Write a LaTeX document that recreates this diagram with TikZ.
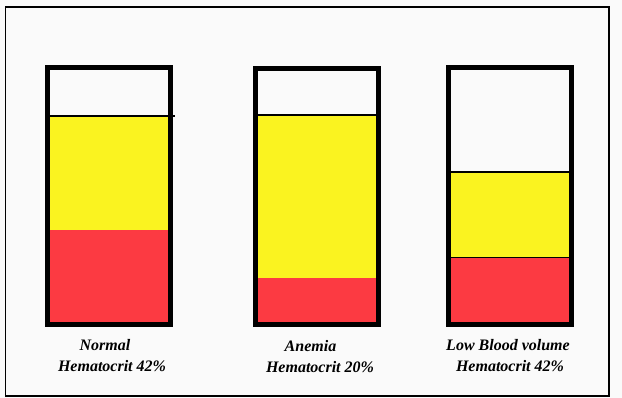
\documentclass[tikz,border=0pt]{standalone}
\usepackage{fontspec}
\setmainfont{Liberation Serif}
\definecolor{bg}{RGB}{250,250,250}
\definecolor{tubey}{RGB}{250,243,32}
\definecolor{tuber}{RGB}{252,58,66}
\begin{document}
\begin{tikzpicture}[x=0.75pt,y=-0.75pt,
  tubebox/.style={draw=black,line width=3.75pt},
  lvl/.style={draw=black,line width=0.9pt},
  lbl/.style={font=\fontsize{12}{14}\selectfont\bfseries\itshape,inner sep=0pt,anchor=center}]
\useasboundingbox (0,0) rectangle (622,398);
\fill[bg] (0,0) rectangle (622,398);
\draw[black,line width=0.9pt] (5.5,7) rectangle (609,396);
% tube 1
\fill[tubey] (50,116) rectangle (168,230);
\fill[tuber] (50,230) rectangle (168,322);
\draw[lvl] (50,116) -- (175,116);
\draw[tubebox] (47.5,67.5) rectangle (170.5,324.5);
% tube 2
\fill[tubey] (257.5,115) rectangle (376,278);
\fill[tuber] (257.5,278) rectangle (376,322);
\draw[lvl] (257.5,115) -- (376,115);
\draw[tubebox] (255,68.5) rectangle (378.5,324.5);
% tube 3
\fill[tubey] (451,172) rectangle (569,257);
\fill[tuber] (451,257) rectangle (569,322);
\draw[lvl] (451,172) -- (569,172);
\draw[black,line width=0.5pt] (451,257) -- (569,257);
\draw[tubebox] (448.5,67.5) rectangle (571.5,324.5);
% labels
\node[lbl] (n1) at (105,345.5) {Normal};
\node[lbl] (h1) at (112,366) {Hematocrit 42\%};
\node[lbl] (n2) at (310.5,346.5) {Anemia};
\node[lbl] (h2) at (320,367) {Hematocrit 20\%};
\node[lbl] (n3) at (508,345.5) {Low Blood volume};
\node[lbl] (h3) at (510,366) {Hematocrit 42\%};
\end{tikzpicture}
\end{document}
